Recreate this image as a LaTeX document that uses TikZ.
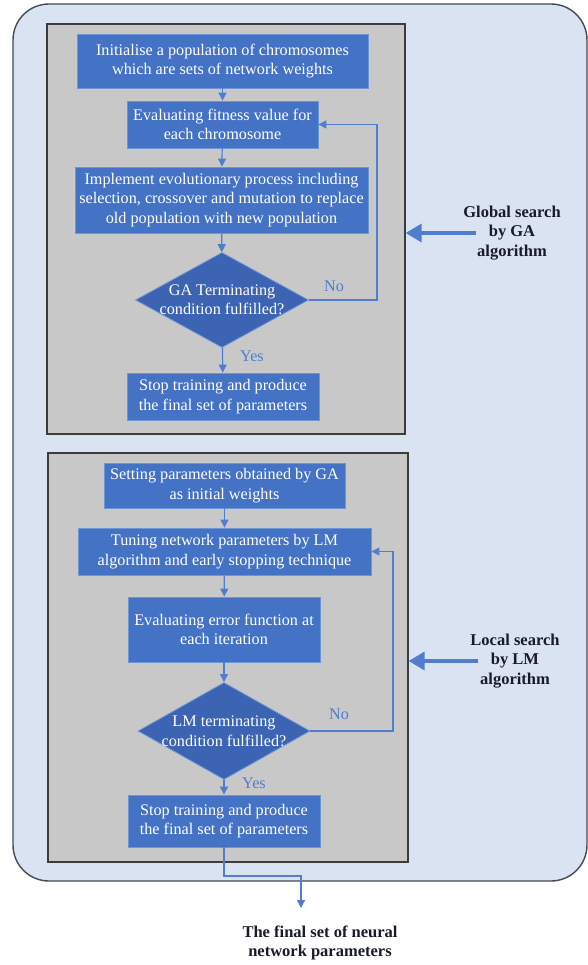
\documentclass[tikz,border=0pt]{standalone}
\usepackage{fontspec}
\setmainfont{Liberation Serif}
\usetikzlibrary{shapes.geometric,arrows.meta}
\definecolor{outerfill}{RGB}{218,227,242}
\definecolor{outerdraw}{RGB}{70,75,85}
\definecolor{grayfill}{RGB}{200,200,200}
\definecolor{graydraw}{RGB}{60,60,60}
\definecolor{boxfill}{RGB}{68,114,196}
\definecolor{boxdraw}{RGB}{110,150,215}
\definecolor{diafill}{RGB}{60,100,178}
\definecolor{linecol}{RGB}{80,125,205}
\definecolor{sidetext}{RGB}{25,28,40}
\tikzset{
  x=1pt, y=-1pt,
  panel/.style={draw=graydraw, fill=grayfill, line width=1.2pt},
  stepbox/.style={draw=boxdraw, fill=boxfill, line width=0.8pt, inner sep=0pt, align=center,
     text=white, font=\fontsize{16.2}{19.5}\selectfont},
  decision/.style={diamond, draw=boxdraw, fill=diafill, line width=0.8pt, inner sep=0pt},
  dtext/.style={align=center, text=white, font=\fontsize{16.2}{19.5}\selectfont, inner sep=0pt},
  conn/.style={draw=linecol, line width=1.2pt, -{Triangle[length=8pt,width=8pt]}},
  lab/.style={text=linecol, font=\fontsize{16.2}{19}\selectfont, inner sep=0pt},
  side/.style={align=center, font=\bfseries\fontsize{16.5}{19.5}\selectfont, text=sidetext, inner sep=0pt},
  bigarrow/.style={draw=linecol, line width=3.3pt, -{Triangle[length=16pt,width=18pt]}}
}
\begin{document}
\begin{tikzpicture}
\useasboundingbox (0,0) rectangle (588,965);
\fill[white] (0,0) rectangle (588,965);
% outer panel
\node[draw=outerdraw, fill=outerfill, line width=1.4pt, rounded corners=36pt, minimum width=574pt, minimum height=877pt, inner sep=0pt] (outer) at (300,442.5) {};
% gray panels
\node[panel, minimum width=358pt, minimum height=410pt, inner sep=0pt] (g1) at (226,229) {};
\node[panel, minimum width=360pt, minimum height=409pt, inner sep=0pt] (g2) at (228,657.5) {};
% GA steps
\node[stepbox, minimum width=291pt, minimum height=54pt] (b1) at (222.5,61)
  {Initialise a population of chromosomes\\which are sets of network weights};
\node[stepbox, minimum width=191pt, minimum height=47pt] (b2) at (222.5,124.5)
  {Evaluating fitness value for\\each chromosome};
\node[stepbox, minimum width=293pt, minimum height=66pt] (b3) at (221.5,200)
  {Implement evolutionary process including\\selection, crossover and mutation to replace\\old population with new population};
\node[decision, minimum width=173pt, minimum height=95pt] (d1) at (222,300) {};
\node[dtext] (d1t) at (d1.center) {GA Terminating\\condition fulfilled?};
\node[stepbox, minimum width=192pt, minimum height=47pt] (s1) at (223,396.5)
  {Stop training and produce\\the final set of parameters};
% LM steps
\node[stepbox, minimum width=241pt, minimum height=45pt] (c1) at (224.5,485.5)
  {Setting parameters obtained by GA\\as initial weights};
\node[stepbox, minimum width=293pt, minimum height=47pt] (c2) at (224.5,551.5)
  {Tuning network parameters by LM\\algorithm and early stopping technique};
\node[stepbox, minimum width=192pt, minimum height=65pt] (c3) at (224,629.5)
  {Evaluating error function at\\each iteration};
\node[decision, minimum width=172pt, minimum height=97pt] (d2) at (224,731) {};
\node[dtext] (d2t) at (d2.center) {LM terminating\\condition fulfilled?};
\node[stepbox, minimum width=192pt, minimum height=52pt] (s2) at (224,821)
  {Stop training and produce\\the final set of parameters};
% connectors GA
\draw[conn] (b1) -- (b2);
\draw[conn] (b2) -- (b3);
\draw[conn] (b3) -- (d1);
\draw[conn] (d1) -- (s1);
\node[lab] (yes1) at (252,356) {Yes};
\coordinate (l1) at (377,300);
\draw[conn] (d1.east) -- (l1) |- (b2.east);
\node[lab] (no1) at (334,286) {No};
% connectors LM
\draw[conn] (c1) -- (c2);
\draw[conn] (c2) -- (c3);
\draw[conn] (c3) -- (d2);
\draw[conn] (d2) -- (s2);
\node[lab] (yes2) at (254,783) {Yes};
\coordinate (l2) at (393,731);
\draw[conn] (d2.east) -- (l2) |- (c2.east);
\node[lab] (no2) at (339,714) {No};
% exit
\coordinate (bend) at (224,876);
\coordinate (tip) at (301,908);
\draw[conn] (s2.south) -- (bend) -| (tip);
\node[side] (fin) at (320,943) {The final set of neural\\network parameters};
% side labels
\node[side] (gl) at (512,233) {Global search\\by GA\\algorithm};
\coordinate (ga) at (476,233);
\draw[bigarrow] (ga) -- (g1.east |- ga);
\node[side] (ll) at (515,661) {Local search\\by LM\\algorithm};
\coordinate (la) at (478,661);
\draw[bigarrow] (la) -- (g2.east |- la);
\end{tikzpicture}
\end{document}
